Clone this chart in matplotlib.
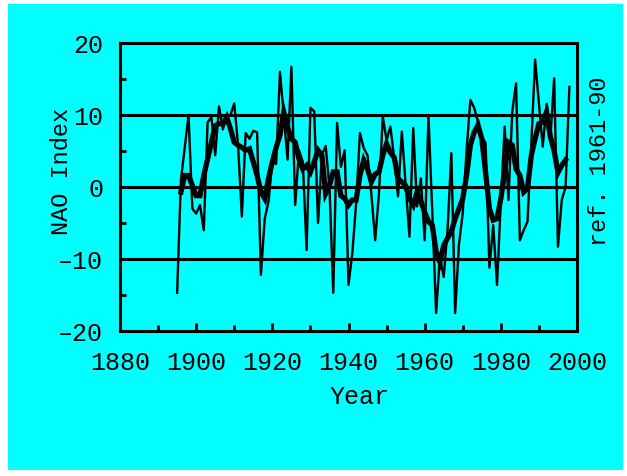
import matplotlib
matplotlib.use("Agg")
import matplotlib.pyplot as plt
from matplotlib.patches import Rectangle

# annual NAO index values, 1895-1998 (thin line)
annual_years = list(range(1895, 1999))
nao_annual = [
    -14.7, 1.0, 5.5, 10.0, -3.0,
    -3.7, -2.5, -6.0, 9.0, 9.7, 4.4, 11.2, 8.0, 9.9, 10.0,
    11.6, 5.8, -4.1, 7.5, 6.7, 7.8, 7.6, -12.2, -4.4, -2.0,
    3.5, 3.2, 16.0, 10.0, 3.8, 16.7, -2.5, 5.1, 3.5, -8.75,
    11.0, 10.5, -5.0, 4.4, 5.7, 0.0, -14.7, 8.9, 2.8, 5.1,
    -13.6, -9.2, -2.3, 7.5, 5.4, 4.4, -1.0, -7.4, -0.9, 9.8,
    6.5, 8.4, 4.0, -1.3, 7.7, 0.3, -6.9, 8.2, -2.7, 1.2,
    -7.4, 9.8, -3.5, -17.5, -9.7, -12.5, -6.0, 4.7, -17.5, -8.0,
    -3.6, 5.1, 12.1, 11.0, 9.0, 7.0, 6.1, -11.2, -5.3, -13.6,
    -2.0, 8.4, -1.8, 10.5, 14.4, -7.4, -6.0, -4.8, 6.0, 17.7,
    11.6, 5.6, 11.5, 6.7, 15.1, -8.3, -1.8, 0.0, 13.9,
]

# smoothed NAO index, 1896-1997 (thick line)
smooth_years = list(range(1896, 1998))
nao_smooth = [
    -0.7, 1.6, 1.6, 0.2,
    -1.2, -1.2, 1.6, 3.9, 6.2, 8.5, 8.8, 8.8, 9.7, 8.1,
    6.2, 5.8, 5.5, 5.1, 5.3, 3.5, 1.6, -0.7, -1.6, 1.2,
    3.5, 5.5, 7.2, 10.4, 8.3, 6.7, 6.2, 3.9, 2.5, 3.0,
    2.1, 3.5, 5.1, 4.4, -0.9, 0.2, 2.1, 2.1, -1.2, -1.6,
    -2.5, -1.8, -1.8, 1.6, 3.7, 2.5, 0.7, 1.8, 2.1, 4.4,
    6.0, 4.8, 4.1, 1.2, 0.7, 0.2, -1.6, -2.5, -0.7, -2.0,
    -3.5, -4.8, -5.3, -9.0, -10.4, -8.1, -7.1, -6.2, -4.4, -3.0,
    -1.6, 1.6, 5.8, 7.6, 8.6, 6.7, 2.0, -3.0, -4.6, -4.4,
    -1.6, 2.1, 6.2, 5.8, 2.5, 1.6, -0.7, -0.2, 4.4, 6.7,
    8.8, 9.0, 10.4, 7.0, 5.0, 2.0, 3.0, 3.75,
]

x_ticks = [1880, 1900, 1920, 1940, 1960, 1980, 2000]
x_minor = [1890, 1910, 1930, 1950, 1970, 1990]
y_ticks = [-20, -10, 0, 10, 20]
y_tick_labels = ["\u201320", "\u201310", "0", "10", "20"]
y_minor = [-15, -5, 5, 15]
grid_levels = [-10, 0, 10]

CYAN = "#00ffff"
FONT = "Liberation Mono"

fig = plt.figure(figsize=(6.27, 4.77), dpi=100, facecolor="white")
fig.patches.append(Rectangle((8 / 627, 6 / 477), 615 / 627, 466 / 477,
                             transform=fig.transFigure, facecolor=CYAN,
                             edgecolor="none", zorder=-10))

ax = fig.add_axes([120 / 627, 1 - 332 / 477, 457 / 627, 288 / 477])
ax.set_facecolor(CYAN)

for lev in grid_levels:
    ax.axhline(lev, color="black", lw=2.2, zorder=1)

ax.plot(annual_years, nao_annual, color="black", lw=1.7, zorder=2)
ax.plot(smooth_years, nao_smooth, color="black", lw=3.8, zorder=3,
        solid_joinstyle="miter")

ax.set_xlim(1880, 2000)
ax.set_ylim(-20, 20)

for s in ax.spines.values():
    s.set_linewidth(2.2)

ax.set_xticks(x_ticks)
ax.set_xticks(x_minor, minor=True)
ax.set_xticklabels([str(t) for t in x_ticks], fontsize=18, family=FONT)
ax.set_yticks(y_ticks)
ax.set_yticks(y_minor, minor=True)
ax.set_yticklabels(y_tick_labels, fontsize=18, family=FONT)
ax.tick_params(axis="x", which="major", direction="in", length=6, width=2, pad=14)
ax.tick_params(axis="x", which="minor", direction="in", length=4, width=2)
ax.tick_params(axis="y", which="major", direction="in", length=5, width=2, pad=12)
ax.tick_params(axis="y", which="minor", direction="in", length=4, width=2)

fig.text(62 / 627, 1 - 171 / 477, "NAO Index", rotation=90, ha="center",
         va="center", fontsize=17, family=FONT)
fig.text(360 / 627, 1 - 397 / 477, "Year", ha="center", va="center",
         fontsize=18, family=FONT)
fig.text(600 / 627, 1 - 161 / 477, "ref. 1961-90", rotation=90, ha="center",
         va="center", fontsize=17, family=FONT)

fig.savefig("out.png", dpi=100, facecolor="white")
